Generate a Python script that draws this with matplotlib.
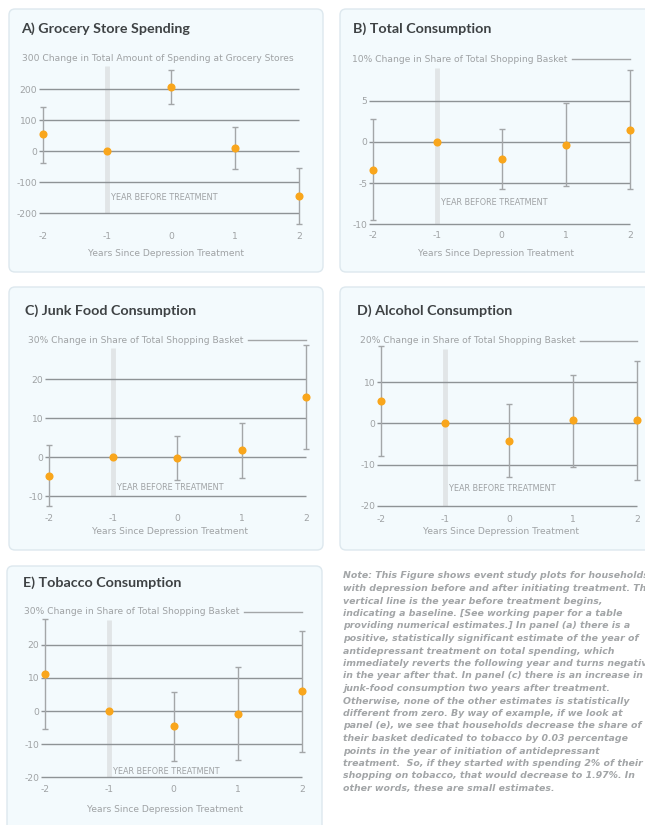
import numpy as np
import matplotlib.pyplot as plt
from matplotlib.patches import FancyBboxPatch

plt.rcParams['font.family'] = ['DejaVu Sans']

years = [-2, -1, 0, 1, 2]
year_labels = ['-2', '-1', '0', '1', '2']

# point estimates and 95% bounds, year -1 is the baseline
grocery_est = [55, 0, 207, 12, -144]
grocery_lo = [-37, 0, 153, -57, -235]
grocery_hi = [144, 0, 262, 80, -53]

total_est = [-3.37, 0, -2.13, -0.36, 1.45]
total_lo = [-9.52, 0, -5.78, -5.38, -5.7]
total_hi = [2.77, 0, 1.57, 4.66, 8.67]

junk_est = [-4.7, 0, -0.26, 1.8, 15.5]
junk_lo = [-12.5, 0, -5.9, -5.4, 2.05]
junk_hi = [3.08, 0, 5.47, 8.9, 28.9]

alcohol_est = [5.48, 0, -4.27, 0.73, 0.8]
alcohol_lo = [-7.9, 0, -13.06, -10.5, -13.8]
alcohol_hi = [18.8, 0, 4.68, 11.7, 15.2]

tobacco_est = [11.06, 0, -4.6, -0.8, 6.0]
tobacco_lo = [-5.5, 0, -15.2, -14.9, -12.5]
tobacco_hi = [27.7, 0, 5.8, 13.2, 24.3]

titles = ['A) Grocery Store Spending', 'B) Total Consumption', 'C) Junk Food Consumption',
          'D) Alcohol Consumption', 'E) Tobacco Consumption']
subtitles = ['300 Change in Total Amount of Spending at Grocery Stores',
             '10% Change in Share of Total Shopping Basket',
             '30% Change in Share of Total Shopping Basket',
             '20% Change in Share of Total Shopping Basket',
             '30% Change in Share of Total Shopping Basket']
yticks = [[-200, -100, 0, 100, 200], [-10, -5, 0, 5], [-10, 0, 10, 20],
          [-20, -10, 0, 10], [-20, -10, 0, 10, 20]]
ytops = [300, 10, 30, 20, 30]
marker_y = [-148, -7.4, -7.8, -15.7, -18.3]
xlabel = 'Years Since Depression Treatment'
baseline_label = 'YEAR BEFORE TREATMENT'

note = [
    'Note: This Figure shows event study plots for households',
    'with depression before and after initiating treatment. The',
    'vertical line is the year before treatment begins,',
    'indicating a baseline. [See working paper for a table',
    'providing numerical estimates.] In panel (a) there is a',
    'positive, statistically significant estimate of the year of',
    'antidepressant treatment on total spending, which',
    'immediately reverts the following year and turns negative',
    'in the year after that. In panel (c) there is an increase in',
    'junk-food consumption two years after treatment.',
    'Otherwise, none of the other estimates is statistically',
    'different from zero. By way of example, if we look at',
    'panel (e), we see that households decrease the share of',
    'their basket dedicated to tobacco by 0.03 percentage',
    'points in the year of initiation of antidepressant',
    'treatment.  So, if they started with spending 2% of their',
    'shopping on tobacco, that would decrease to 1.97%. In',
    'other words, these are small estimates.',
]

est = [grocery_est, total_est, junk_est, alcohol_est, tobacco_est]
lo = [grocery_lo, total_lo, junk_lo, alcohol_lo, tobacco_lo]
hi = [grocery_hi, total_hi, junk_hi, alcohol_hi, tobacco_hi]

# pixel layout: box, title pos, x of -2 and 2, y of top and bottom, x tick row, x label row
W, H = 645, 825
layout = [
    dict(box=(9, 9, 323, 272), title=(21, 29), x0=42.7, x1=299.3, ytop=58.3, ybot=213.3, xt=236, xl=253, xlc=166),
    dict(box=(340, 9, 670, 272), title=(352.7, 29), x0=372.7, x1=630.3, ytop=59.3, ybot=224.3, xt=235, xl=253, xlc=496),
    dict(box=(9, 287, 323, 550), title=(25.3, 310.7), x0=48.7, x1=306, ytop=340.3, ybot=496.3, xt=517.7, xl=531, xlc=170),
    dict(box=(340, 287, 670, 550), title=(356.7, 310.7), x0=380.7, x1=637.3, ytop=340.7, ybot=506, xt=519.3, xl=531, xlc=501),
    dict(box=(7, 566, 322, 850), title=(23.3, 582.7), x0=45, x1=302.3, ytop=611.7, ybot=777.3, xt=788.7, xl=809.3, xlc=165),
]

grid_c = '#8e9396'
light_c = '#a3a6a8'
text_c = '#9fa2a4'
orange = '#f9a61c'

fig = plt.figure(figsize=(W / 100, H / 100), dpi=100)
fig.patch.set_facecolor('white')
bg = fig.add_axes([0, 0, 1, 1])
bg.set_xlim(0, W)
bg.set_ylim(H, 0)
bg.axis('off')

axes = []
for i, L in enumerate(layout):
    bx0, by0, bx1, by1 = L['box']
    bg.add_patch(FancyBboxPatch((bx0, by0), bx1 - bx0, by1 - by0,
                                boxstyle='round,pad=0,rounding_size=6',
                                fc='#f3fafd', ec='#dde8ee', lw=1))
    bg.text(L['title'][0], L['title'][1], titles[i], fontsize=10.3, fontweight='bold',
            family=['Lato', 'DejaVu Sans'], color='#3e4244', va='center', ha='left')
    bg.text(L['xlc'], L['xl'], xlabel, fontsize=6.6, color=text_c, ha='center', va='center')

    ax = fig.add_axes([L['x0'] / W, 1 - L['ybot'] / H,
                       (L['x1'] - L['x0']) / W, (L['ybot'] - L['ytop']) / H])
    ax.set_xlim(-2, 2)
    ax.set_ylim(yticks[i][0], ytops[i])
    ax.set_frame_on(False)
    ax.patch.set_alpha(0)

    ax.set_yticks(yticks[i])
    ax.set_yticklabels([str(v) for v in yticks[i]])
    ax.set_xticks(years)
    ax.set_xticklabels(year_labels)
    ax.tick_params(length=0, labelsize=6.6, labelcolor=text_c)
    ax.tick_params(axis='y', pad=4)
    ax.tick_params(axis='x', pad=(L['xt'] - L['ybot'] - 4) * 0.72)

    ax.hlines(yticks[i], -2.06, 2, color=grid_c, lw=1, clip_on=False, zorder=1)
    span = ytops[i] - yticks[i][0]
    ax.plot([-1, -1], [yticks[i][0], ytops[i] - 0.05 * span], color='#e1e5e7', lw=3.5,
            solid_capstyle='butt', zorder=0.5)
    ax.text(-0.94, marker_y[i], baseline_label, fontsize=5.9, color=text_c,
            ha='left', va='center')

    e, l, h = np.array(est[i]), np.array(lo[i]), np.array(hi[i])
    m = h > l
    eb = ax.errorbar(np.array(years)[m], e[m], yerr=[e[m] - l[m], h[m] - e[m]], fmt='none',
                     ecolor=light_c, elinewidth=1, capsize=2.2, capthick=1, zorder=2)
    for art in eb.get_children():
        art.set_clip_on(False)
    ax.scatter(years, est[i], s=34, color=orange, zorder=5, clip_on=False, linewidths=0)

    sub = ax.annotate(subtitles[i], xy=(-2, ytops[i]), xytext=(-21, 0), textcoords='offset pixels',
                      fontsize=6.6, color=text_c, ha='left', va='center')
    axes.append((ax, sub))

# top rule after the axis title, where there is room for it
fig.canvas.draw()
renderer = fig.canvas.get_renderer()
for i, (ax, sub) in enumerate(axes):
    bb = sub.get_window_extent(renderer)
    x_end = ax.transData.inverted().transform((bb.x1 + 5, 0))[0]
    if (2 - x_end) * (layout[i]['x1'] - layout[i]['x0']) / 4 > 20:
        ax.plot([x_end, 2], [ytops[i], ytops[i]], color=light_c, lw=1, clip_on=False)

for k, line in enumerate(note):
    bg.text(343, 576 + k * 12.5, line, fontsize=6.75, fontstyle='italic', fontweight='bold',
            color='#a2a5a7', ha='left', va='center')

fig.savefig('out.png', dpi=100)
